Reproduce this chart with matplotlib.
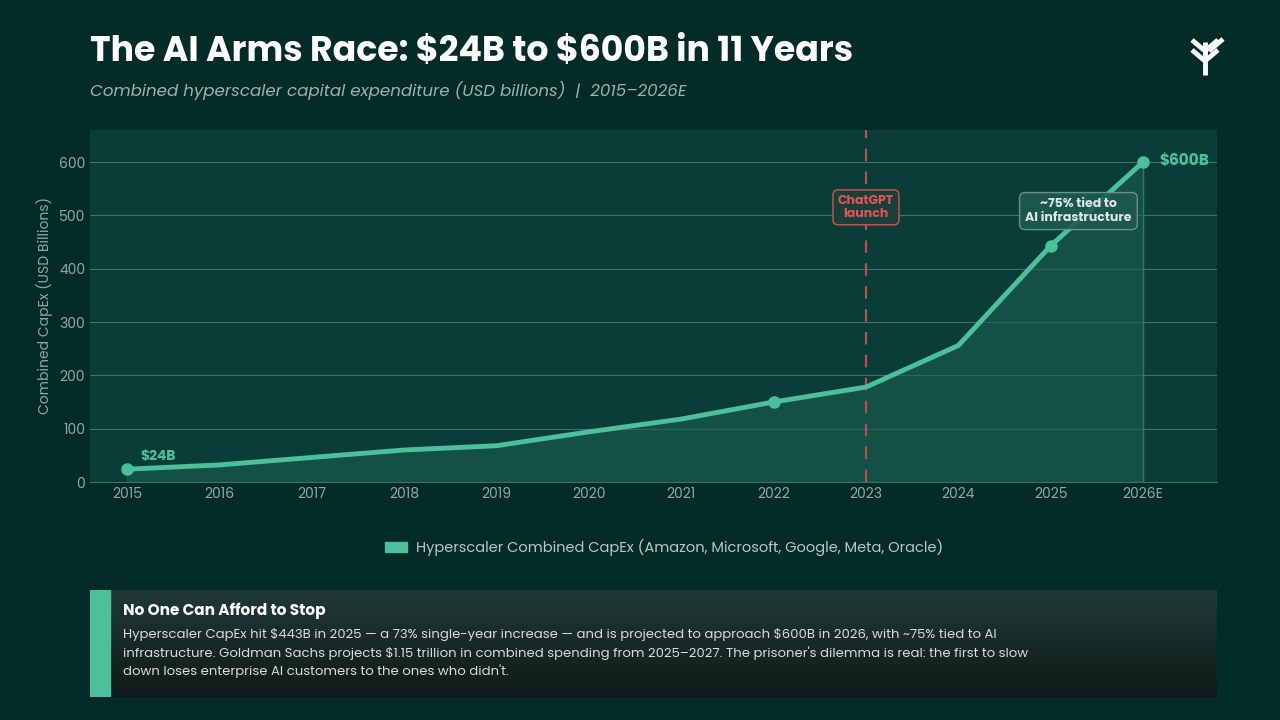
import numpy as np
import matplotlib.pyplot as plt
from matplotlib.patches import Rectangle
from matplotlib.colors import LinearSegmentedColormap

plt.rcParams['font.family'] = ['Poppins', 'Inter', 'DejaVu Sans']
plt.rcParams['text.parse_math'] = False

years = [2015, 2016, 2017, 2018, 2019, 2020, 2021, 2022, 2023, 2024, 2025, 2026]
year_labels = ['2015', '2016', '2017', '2018', '2019', '2020', '2021', '2022', '2023', '2024', '2025', '2026E']
capex = [24, 32, 46, 60, 68, 94, 118, 150, 178, 256, 443, 600]
marked_years = [2015, 2022, 2025, 2026]

BG = '#032b27'
GREEN = '#4cbf9b'
W, H = 1280, 720

fig = plt.figure(figsize=(12.8, 7.2), dpi=100)
fig.patch.set_facecolor(BG)

ax = fig.add_axes([90 / W, 1 - 482 / H, (1217 - 90) / W, (482 - 130) / H])
ax.set_facecolor('#0b3d38')
ax.set_xlim(2014.6, 2026.8)
ax.set_ylim(0, 660)
ax.fill_between(years, capex, color='#1d5e52', alpha=0.6, zorder=1)
ax.plot(years, capex, color=GREEN, lw=3.5, zorder=3, solid_capstyle='round')
ax.plot(marked_years, [capex[years.index(y)] for y in marked_years], 'o', color=GREEN, ms=8, zorder=4)
ax.plot([2026, 2026], [0, 600], color='#2e7a69', lw=1, zorder=2)
ax.axvline(2023, color='#c0504d', lw=1.5, ls=(0, (6, 5)), zorder=2)

ax.set_yticks(range(0, 601, 100))
ax.set_xticks(years)
ax.set_xticklabels(year_labels)
ax.grid(axis='y', color='#5a8a80', lw=0.8, alpha=0.7)
ax.set_axisbelow(True)
ax.tick_params(colors='#8fa8a2', labelsize=10, length=0)
for s in ax.spines.values():
    s.set_visible(False)
ax.spines['bottom'].set_visible(True)
ax.spines['bottom'].set_color('#3f6f66')
ax.set_ylabel('Combined CapEx (USD Billions)', color='#8fa8a2', fontsize=10)

ax.text(2015.15, 34, '$24B', color=GREEN, fontsize=10, fontweight='bold', va='bottom')
ax.text(2026.18, 602, '$600B', color=GREEN, fontsize=11, fontweight='bold', va='center')
ax.text(2023, 515, 'ChatGPT\nlaunch', color='#e05555', fontsize=9, fontweight='bold',
        ha='center', va='center', linespacing=1.1,
        bbox=dict(boxstyle='round,pad=0.4', fc='#1a3f3a', ec='#d65050', lw=1))
ax.text(2025.3, 508, '~75% tied to\nAI infrastructure', color='#e0e6e4', fontsize=9, fontweight='bold',
        ha='center', va='center', linespacing=1.2,
        bbox=dict(boxstyle='round,pad=0.45', fc='#1e5a50', ec='#6e9a90', lw=1, alpha=0.9))

# title
fig.text(90 / W, 1 - 52 / H, 'The AI Arms Race: $24B to $600B in 11 Years', color='white',
         fontsize=25, fontweight='bold', va='center')
fig.text(90 / W, 1 - 91 / H, 'Combined hyperscaler capital expenditure (USD billions)  |  2015\u20132026E',
         color='#9fb3ae', fontsize=12, style='italic', va='center')

# logo
lx, ly = 1205 / W, 1 - 75 / H
lg = dict(color='white', lw=3.5, transform=fig.transFigure, solid_capstyle='butt')
fig.add_artist(plt.Line2D([lx, lx], [ly, ly + 33 / H], **lg))
for dy in [6, 16]:
    fig.add_artist(plt.Line2D([lx, lx - 13 / W], [ly + dy / H + 8 / H, ly + dy / H + 19 / H], **lg))
    fig.add_artist(plt.Line2D([lx, lx + 13 / W], [ly + dy / H + 8 / H, ly + dy / H + 19 / H], **lg))
fig.add_artist(plt.Line2D([lx + 4 / W, lx + 18 / W], [ly + 24 / H, ly + 36 / H], **lg))

# legend
fig.add_artist(Rectangle((385 / W, 1 - 552 / H), 22 / W, 10 / H, color=GREEN, transform=fig.transFigure))
fig.text(416 / W, 1 - 547 / H, 'Hyperscaler Combined CapEx (Amazon, Microsoft, Google, Meta, Oracle)',
         color='#b9c7c3', fontsize=10.5, va='center')

# bottom callout with gradient
bx = fig.add_axes([90 / W, 1 - 697 / H, (1217 - 90) / W, (697 - 590) / H])
grad = np.linspace(0, 1, 100).reshape(-1, 1)
cm = LinearSegmentedColormap.from_list('g', ['#203a35', '#0f1a18'])
bx.imshow(grad, aspect='auto', cmap=cm, extent=[0, 1, 0, 1], origin='upper')
bx.add_patch(Rectangle((0, 0), 20 / 1127, 1, color=GREEN))
bx.set_xlim(0, 1)
bx.set_ylim(0, 1)
bx.axis('off')
fig.text(123 / W, 1 - 611 / H, 'No One Can Afford to Stop', color='white', fontsize=11,
         fontweight='bold', va='center')
fig.text(123 / W, 1 - 628 / H,
         "Hyperscaler CapEx hit $443B in 2025 \u2014 a 73% single-year increase \u2014 and is projected to approach $600B in 2026, with ~75% tied to AI\n"
         "infrastructure. Goldman Sachs projects $1.15 trillion in combined spending from 2025\u20132027. The prisoner's dilemma is real: the first to slow\n"
         "down loses enterprise AI customers to the ones who didn't.",
         color='#d6dcda', fontsize=9.5, va='top', linespacing=1.45)

fig.savefig('out.png', dpi=100, facecolor=BG)
